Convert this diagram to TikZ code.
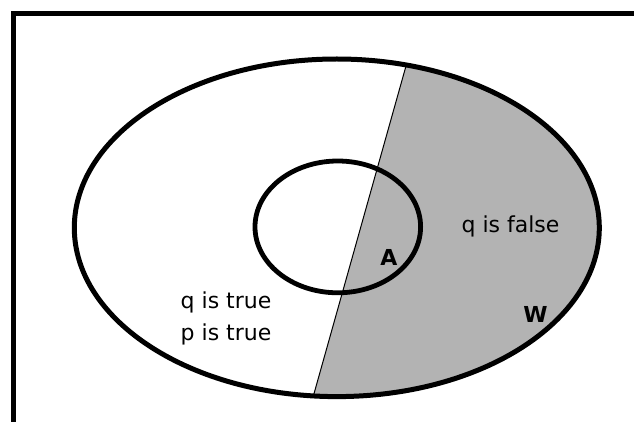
\documentclass[tikz,border=0pt]{standalone}
\usepackage{fontspec}
\setmainfont{DejaVu Sans}
\definecolor{shadegray}{RGB}{179,179,179}
\begin{document}
\begin{tikzpicture}[x=1pt,y=-1pt,
                txt/.style={font=\fontsize{22}{26}\selectfont,inner sep=0pt},
                boldtxt/.style={font=\fontsize{22}{26}\selectfont\bfseries,inner sep=0pt}]
                \useasboundingbox (0,0) rectangle (634,422);
                \fill[white] (0,0) rectangle (634,422);
                \coordinate (c) at (336.8,227.8);
                \coordinate (lt) at (413.3,40);
                \coordinate (lb) at (306.6,420);
                \begin{scope}
                \clip (c) ellipse [x radius=262.5, y radius=168.8];
                \fill[shadegray] (lt) -- (640,40) -- (640,420) -- (lb) -- cycle;
                \draw[line width=1pt] (lt) -- (lb);
                \end{scope}
                \draw[line width=5pt] (c) ellipse [x radius=262.5, y radius=168.8];
                \draw[line width=4.8pt] (337.8,226.9) ellipse [x radius=82.8, y radius=65.9];
                \draw[line width=5pt] (13.5,430) -- (13.5,13.5) -- (640,13.5);
                \node[txt,anchor=base] (qfalse) at (510.5,233) {q is false};
                \node[boldtxt,anchor=base] (a) at (389,265) {A};
                \node[boldtxt,anchor=base] (w) at (535.5,322) {W};
                \node[txt,anchor=base west] (qtrue) at (180.5,308) {q is true};
                \node[txt,anchor=base west] (ptrue) at (180.5,340) {p is true};
            \end{tikzpicture}
\end{document}
